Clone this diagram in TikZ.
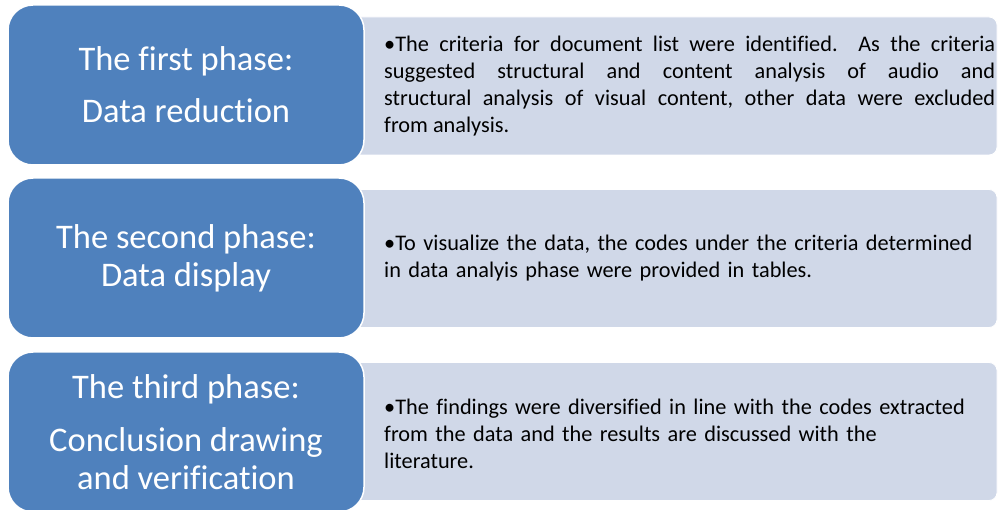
\documentclass[tikz,border=0pt]{standalone}
\usepackage{fontspec}
\setmainfont{Carlito}[Ligatures={NoCommon}, RawFeature={-liga;-clig;-calt}]
\definecolor{phaseblue}{HTML}{4F81BD}
\definecolor{detailgray}{HTML}{D0D8E8}

\begin{document}
\frenchspacing
\begin{tikzpicture}[x=1pt,y=1pt,
  phasebox/.style={fill=phaseblue, draw=white, line width=1.5pt,
    rounded corners=25pt, minimum width=356pt, minimum height=160pt,
    inner sep=0pt, text=white, align=center,
    font=\fontsize{34.5}{38}\selectfont},
  detailbox/.style={fill=detailgray, draw=white, line width=0.8pt,
    rounded corners=8pt, minimum width=657pt, minimum height=138pt},
  detailtext/.style={anchor=west, inner sep=0pt, text width=611pt,
    font=\fontsize{22.3}{27}\selectfont}]
   \useasboundingbox[fill=white] (0,0) rectangle (999,509);
   % first phase
   \node[detailbox] (detail1) at (668.5,423) {};
   \node[detailtext, align=justify] (text1) at (384,423)
     {\textbullet The criteria for document list were identified.\ \ As the criteria\linebreak
      suggested structural and content analysis of audio and\linebreak
      structural analysis of visual content, other data were excluded\linebreak
      from analysis.};
   \node[phasebox] (phase1) at (186,424)
     {The first phase:\\[14pt]Data reduction};
   % second phase
   \node[detailbox] (detail2) at (668.5,250.5) {};
   \node[detailtext, align=left] (text2) at (384,250.5)
     {\textbullet To visualize the data, the codes under the criteria determined\\
      in data analyis phase were provided in tables.};
   \node[phasebox] (phase2) at (186,251)
     {The second phase:\\Data display};
   % third phase
   \node[detailbox] (detail3) at (668.5,77.5) {};
   \node[detailtext, align=left] (text3) at (384,75)
     {\textbullet The findings were diversified in line with the codes extracted\\
      from the data and the results are discussed with the\\
      literature.};
   \node[phasebox] (phase3) at (186,77)
     {The third phase:\\[15pt]Conclusion drawing\\and verification};
\end{tikzpicture}
\end{document}
